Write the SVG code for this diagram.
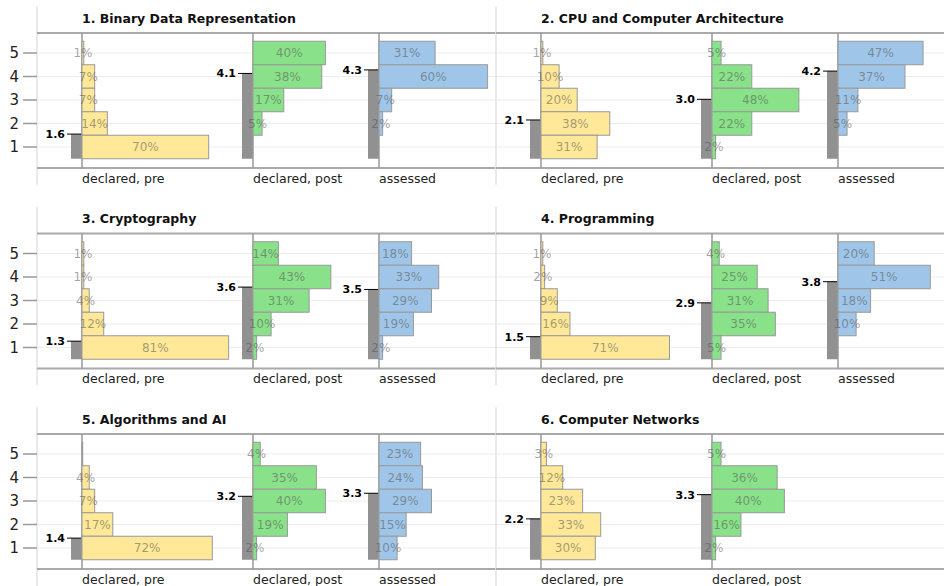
<svg xmlns="http://www.w3.org/2000/svg" xmlns:xlink="http://www.w3.org/1999/xlink" width="944" height="586" viewBox="0 0 944 586">
<style>
.pl{stroke:#e3e3e3;stroke-width:1.5}
.fr{stroke:#aaa;stroke-width:2}
.gr{stroke:#ececec;stroke-width:1}
.ax{stroke:#999;stroke-width:1.5}
.tk{stroke:#999;stroke-width:1.5}
.pre{fill:#ffe897;stroke:#999;stroke-width:1}
.post{fill:#89e189;stroke:#999;stroke-width:1}
.ass{fill:#9fc5e8;stroke:#999;stroke-width:1}
.mb{fill:#919191}
.mt{stroke:#000;stroke-width:1}
text{font-family:"DejaVu Sans","Noto Sans",sans-serif}
.pct{font-size:12px;fill:#555;fill-opacity:.55;text-anchor:middle}
.ml{font-size:11px;font-weight:bold;fill:#000;text-anchor:end}
.t{font-size:12.5px;font-weight:bold;fill:#111}
.al{font-size:12.5px;fill:#222}
.tl{font-size:15px;fill:#222;text-anchor:end}
</style>
<defs>
<g id="frame">
<line class="pl" x1="0" y1="6" x2="0" y2="185"/>
<line class="gr" x1="0" y1="53" x2="459" y2="53"/>
<line class="gr" x1="0" y1="76.5" x2="459" y2="76.5"/>
<line class="gr" x1="0" y1="100" x2="459" y2="100"/>
<line class="gr" x1="0" y1="123.5" x2="459" y2="123.5"/>
<line class="gr" x1="0" y1="147" x2="459" y2="147"/>
<line class="fr" x1="0" y1="33" x2="459" y2="33"/>
<line class="fr" x1="0" y1="168" x2="459" y2="168"/>
</g>
<g id="yticks">
<line class="tk" x1="-14" y1="53" x2="0" y2="53"/>
<line class="tk" x1="-14" y1="76.5" x2="0" y2="76.5"/>
<line class="tk" x1="-14" y1="100" x2="0" y2="100"/>
<line class="tk" x1="-14" y1="123.5" x2="0" y2="123.5"/>
<line class="tk" x1="-14" y1="147" x2="0" y2="147"/>
<text class="tl" x="-18" y="58.4">5</text>
<text class="tl" x="-18" y="81.9">4</text>
<text class="tl" x="-18" y="105.4">3</text>
<text class="tl" x="-18" y="128.9">2</text>
<text class="tl" x="-18" y="152.4">1</text>
</g>
<line id="axis" class="ax" x1="0" y1="33" x2="0" y2="168"/>
</defs>

<g id="panel1" transform="translate(37,0)">
<use xlink:href="#frame"/><use xlink:href="#yticks"/>
<text class="t" x="45" y="22.5">1. Binary Data Representation</text>
<g id="p1-pre" transform="translate(45,0)">
<rect class="mb" x="-11" y="134.08" width="11" height="24.67"/>
<line class="mt" x1="-15" y1="134.08" x2="0" y2="134.08"/>
<text class="ml" x="-17" y="138">1.6</text>
<use xlink:href="#axis"/>
<rect class="pre" x="0" y="41.25" width="1.81" height="23.5"/><text class="pct" x="0.9" y="57.3">1%</text>
<rect class="pre" x="0" y="64.75" width="12.67" height="23.5"/><text class="pct" x="6.34" y="80.8">7%</text>
<rect class="pre" x="0" y="88.25" width="12.67" height="23.5"/><text class="pct" x="6.34" y="104.3">7%</text>
<rect class="pre" x="0" y="111.75" width="25.34" height="23.5"/><text class="pct" x="12.67" y="127.8">14%</text>
<rect class="pre" x="0" y="135.25" width="126.7" height="23.5"/><text class="pct" x="63.35" y="151.3">70%</text>
<text class="al" x="0" y="182.5">declared, pre</text>
</g>
<g id="p1-post" transform="translate(216,0)">
<rect class="mb" x="-11" y="73.45" width="11" height="85.3"/>
<line class="mt" x1="-15" y1="73.45" x2="0" y2="73.45"/>
<text class="ml" x="-17" y="77.4">4.1</text>
<use xlink:href="#axis"/>
<rect class="post" x="0" y="41.25" width="72.4" height="23.5"/><text class="pct" x="36.2" y="57.3">40%</text>
<rect class="post" x="0" y="64.75" width="68.78" height="23.5"/><text class="pct" x="34.39" y="80.8">38%</text>
<rect class="post" x="0" y="88.25" width="30.77" height="23.5"/><text class="pct" x="15.39" y="104.3">17%</text>
<rect class="post" x="0" y="111.75" width="9.05" height="23.5"/><text class="pct" x="4.53" y="127.8">5%</text>
<text class="al" x="0" y="182.5">declared, post</text>
</g>
<g id="p1-ass" transform="translate(342,0)">
<rect class="mb" x="-11" y="69.92" width="11" height="88.83"/>
<line class="mt" x1="-15" y1="69.92" x2="0" y2="69.92"/>
<text class="ml" x="-17" y="73.9">4.3</text>
<use xlink:href="#axis"/>
<rect class="ass" x="0" y="41.25" width="56.11" height="23.5"/><text class="pct" x="28.06" y="57.3">31%</text>
<rect class="ass" x="0" y="64.75" width="108.6" height="23.5"/><text class="pct" x="54.3" y="80.8">60%</text>
<rect class="ass" x="0" y="88.25" width="12.67" height="23.5"/><text class="pct" x="6.34" y="104.3">7%</text>
<rect class="ass" x="0" y="111.75" width="3.62" height="23.5"/><text class="pct" x="1.81" y="127.8">2%</text>
<text class="al" x="0" y="182.5">assessed</text>
</g>
</g>

<g id="panel2" transform="translate(496,0)">
<use xlink:href="#frame"/>
<text class="t" x="45" y="22.5">2. CPU and Computer Architecture</text>
<g id="p2-pre" transform="translate(45,0)">
<rect class="mb" x="-11" y="119.98" width="11" height="38.77"/>
<line class="mt" x1="-15" y1="119.98" x2="0" y2="119.98"/>
<text class="ml" x="-17" y="123.9">2.1</text>
<use xlink:href="#axis"/>
<rect class="pre" x="0" y="41.25" width="1.81" height="23.5"/><text class="pct" x="0.9" y="57.3">1%</text>
<rect class="pre" x="0" y="64.75" width="18.1" height="23.5"/><text class="pct" x="9.05" y="80.8">10%</text>
<rect class="pre" x="0" y="88.25" width="36.2" height="23.5"/><text class="pct" x="18.1" y="104.3">20%</text>
<rect class="pre" x="0" y="111.75" width="68.78" height="23.5"/><text class="pct" x="34.39" y="127.8">38%</text>
<rect class="pre" x="0" y="135.25" width="56.11" height="23.5"/><text class="pct" x="28.06" y="151.3">31%</text>
<text class="al" x="0" y="182.5">declared, pre</text>
</g>
<g id="p2-post" transform="translate(216,0)">
<rect class="mb" x="-11" y="99.3" width="11" height="59.45"/>
<line class="mt" x1="-15" y1="99.3" x2="0" y2="99.3"/>
<text class="ml" x="-17" y="103.2">3.0</text>
<use xlink:href="#axis"/>
<rect class="post" x="0" y="41.25" width="9.05" height="23.5"/><text class="pct" x="4.53" y="57.3">5%</text>
<rect class="post" x="0" y="64.75" width="39.82" height="23.5"/><text class="pct" x="19.91" y="80.8">22%</text>
<rect class="post" x="0" y="88.25" width="86.88" height="23.5"/><text class="pct" x="43.44" y="104.3">48%</text>
<rect class="post" x="0" y="111.75" width="39.82" height="23.5"/><text class="pct" x="19.91" y="127.8">22%</text>
<rect class="post" x="0" y="135.25" width="3.62" height="23.5"/><text class="pct" x="1.81" y="151.3">2%</text>
<text class="al" x="0" y="182.5">declared, post</text>
</g>
<g id="p2-ass" transform="translate(342,0)">
<rect class="mb" x="-11" y="71.1" width="11" height="87.65"/>
<line class="mt" x1="-15" y1="71.1" x2="0" y2="71.1"/>
<text class="ml" x="-17" y="75">4.2</text>
<use xlink:href="#axis"/>
<rect class="ass" x="0" y="41.25" width="85.07" height="23.5"/><text class="pct" x="42.54" y="57.3">47%</text>
<rect class="ass" x="0" y="64.75" width="66.97" height="23.5"/><text class="pct" x="33.49" y="80.8">37%</text>
<rect class="ass" x="0" y="88.25" width="19.91" height="23.5"/><text class="pct" x="9.96" y="104.3">11%</text>
<rect class="ass" x="0" y="111.75" width="9.05" height="23.5"/><text class="pct" x="4.53" y="127.8">5%</text>
<text class="al" x="0" y="182.5">assessed</text>
</g>
</g>

<g id="panel3" transform="translate(37,200.5)">
<use xlink:href="#frame"/><use xlink:href="#yticks"/>
<text class="t" x="45" y="22.5">3. Cryptography</text>
<g id="p3-pre" transform="translate(45,0)">
<rect class="mb" x="-11" y="140.66" width="11" height="18.09"/>
<line class="mt" x1="-15" y1="140.66" x2="0" y2="140.66"/>
<text class="ml" x="-17" y="144.6">1.3</text>
<use xlink:href="#axis"/>
<rect class="pre" x="0" y="41.25" width="1.81" height="23.5"/><text class="pct" x="0.9" y="57.3">1%</text>
<rect class="pre" x="0" y="64.75" width="1.81" height="23.5"/><text class="pct" x="0.9" y="80.8">1%</text>
<rect class="pre" x="0" y="88.25" width="7.24" height="23.5"/><text class="pct" x="3.62" y="104.3">4%</text>
<rect class="pre" x="0" y="111.75" width="21.72" height="23.5"/><text class="pct" x="10.86" y="127.8">12%</text>
<rect class="pre" x="0" y="135.25" width="146.61" height="23.5"/><text class="pct" x="73.31" y="151.3">81%</text>
<text class="al" x="0" y="182.5">declared, pre</text>
</g>
<g id="p3-post" transform="translate(216,0)">
<rect class="mb" x="-11" y="86.6" width="11" height="72.15"/>
<line class="mt" x1="-15" y1="86.6" x2="0" y2="86.6"/>
<text class="ml" x="-17" y="90.5">3.6</text>
<use xlink:href="#axis"/>
<rect class="post" x="0" y="41.25" width="25.34" height="23.5"/><text class="pct" x="12.67" y="57.3">14%</text>
<rect class="post" x="0" y="64.75" width="77.83" height="23.5"/><text class="pct" x="38.92" y="80.8">43%</text>
<rect class="post" x="0" y="88.25" width="56.11" height="23.5"/><text class="pct" x="28.06" y="104.3">31%</text>
<rect class="post" x="0" y="111.75" width="18.1" height="23.5"/><text class="pct" x="9.05" y="127.8">10%</text>
<rect class="post" x="0" y="135.25" width="3.62" height="23.5"/><text class="pct" x="1.81" y="151.3">2%</text>
<text class="al" x="0" y="182.5">declared, post</text>
</g>
<g id="p3-ass" transform="translate(342,0)">
<rect class="mb" x="-11" y="88.96" width="11" height="69.79"/>
<line class="mt" x1="-15" y1="88.96" x2="0" y2="88.96"/>
<text class="ml" x="-17" y="92.9">3.5</text>
<use xlink:href="#axis"/>
<rect class="ass" x="0" y="41.25" width="32.58" height="23.5"/><text class="pct" x="16.29" y="57.3">18%</text>
<rect class="ass" x="0" y="64.75" width="59.73" height="23.5"/><text class="pct" x="29.87" y="80.8">33%</text>
<rect class="ass" x="0" y="88.25" width="52.49" height="23.5"/><text class="pct" x="26.25" y="104.3">29%</text>
<rect class="ass" x="0" y="111.75" width="34.39" height="23.5"/><text class="pct" x="17.2" y="127.8">19%</text>
<rect class="ass" x="0" y="135.25" width="3.62" height="23.5"/><text class="pct" x="1.81" y="151.3">2%</text>
<text class="al" x="0" y="182.5">assessed</text>
</g>
</g>

<g id="panel4" transform="translate(496,200.5)">
<use xlink:href="#frame"/>
<text class="t" x="45" y="22.5">4. Programming</text>
<g id="p4-pre" transform="translate(45,0)">
<rect class="mb" x="-11" y="136.19" width="11" height="22.56"/>
<line class="mt" x1="-15" y1="136.19" x2="0" y2="136.19"/>
<text class="ml" x="-17" y="140.1">1.5</text>
<use xlink:href="#axis"/>
<rect class="pre" x="0" y="41.25" width="1.81" height="23.5"/><text class="pct" x="0.9" y="57.3">1%</text>
<rect class="pre" x="0" y="64.75" width="3.62" height="23.5"/><text class="pct" x="1.81" y="80.8">2%</text>
<rect class="pre" x="0" y="88.25" width="16.29" height="23.5"/><text class="pct" x="8.15" y="104.3">9%</text>
<rect class="pre" x="0" y="111.75" width="28.96" height="23.5"/><text class="pct" x="14.48" y="127.8">16%</text>
<rect class="pre" x="0" y="135.25" width="128.51" height="23.5"/><text class="pct" x="64.26" y="151.3">71%</text>
<text class="al" x="0" y="182.5">declared, pre</text>
</g>
<g id="p4-post" transform="translate(216,0)">
<rect class="mb" x="-11" y="102.35" width="11" height="56.4"/>
<line class="mt" x1="-15" y1="102.35" x2="0" y2="102.35"/>
<text class="ml" x="-17" y="106.3">2.9</text>
<use xlink:href="#axis"/>
<rect class="post" x="0" y="41.25" width="7.24" height="23.5"/><text class="pct" x="3.62" y="57.3">4%</text>
<rect class="post" x="0" y="64.75" width="45.25" height="23.5"/><text class="pct" x="22.63" y="80.8">25%</text>
<rect class="post" x="0" y="88.25" width="56.11" height="23.5"/><text class="pct" x="28.06" y="104.3">31%</text>
<rect class="post" x="0" y="111.75" width="63.35" height="23.5"/><text class="pct" x="31.68" y="127.8">35%</text>
<rect class="post" x="0" y="135.25" width="9.05" height="23.5"/><text class="pct" x="4.53" y="151.3">5%</text>
<text class="al" x="0" y="182.5">declared, post</text>
</g>
<g id="p4-ass" transform="translate(342,0)">
<rect class="mb" x="-11" y="81.2" width="11" height="77.55"/>
<line class="mt" x1="-15" y1="81.2" x2="0" y2="81.2"/>
<text class="ml" x="-17" y="85.1">3.8</text>
<use xlink:href="#axis"/>
<rect class="ass" x="0" y="41.25" width="36.2" height="23.5"/><text class="pct" x="18.1" y="57.3">20%</text>
<rect class="ass" x="0" y="64.75" width="92.31" height="23.5"/><text class="pct" x="46.16" y="80.8">51%</text>
<rect class="ass" x="0" y="88.25" width="32.58" height="23.5"/><text class="pct" x="16.29" y="104.3">18%</text>
<rect class="ass" x="0" y="111.75" width="18.1" height="23.5"/><text class="pct" x="9.05" y="127.8">10%</text>
<text class="al" x="0" y="182.5">assessed</text>
</g>
</g>

<g id="panel5" transform="translate(37,401)">
<use xlink:href="#frame"/><use xlink:href="#yticks"/>
<text class="t" x="45" y="22.5">5. Algorithms and AI</text>
<g id="p5-pre" transform="translate(45,0)">
<rect class="mb" x="-11" y="137.13" width="11" height="21.62"/>
<line class="mt" x1="-15" y1="137.13" x2="0" y2="137.13"/>
<text class="ml" x="-17" y="141.1">1.4</text>
<use xlink:href="#axis"/>
<rect class="pre" x="0" y="41.25" width="0.7" height="23.5"/>
<rect class="pre" x="0" y="64.75" width="7.24" height="23.5"/><text class="pct" x="3.62" y="80.8">4%</text>
<rect class="pre" x="0" y="88.25" width="12.67" height="23.5"/><text class="pct" x="6.34" y="104.3">7%</text>
<rect class="pre" x="0" y="111.75" width="30.77" height="23.5"/><text class="pct" x="15.39" y="127.8">17%</text>
<rect class="pre" x="0" y="135.25" width="130.32" height="23.5"/><text class="pct" x="65.16" y="151.3">72%</text>
<text class="al" x="0" y="182.5">declared, pre</text>
</g>
<g id="p5-post" transform="translate(216,0)">
<rect class="mb" x="-11" y="95.3" width="11" height="63.45"/>
<line class="mt" x1="-15" y1="95.3" x2="0" y2="95.3"/>
<text class="ml" x="-17" y="99.2">3.2</text>
<use xlink:href="#axis"/>
<rect class="post" x="0" y="41.25" width="7.24" height="23.5"/><text class="pct" x="3.62" y="57.3">4%</text>
<rect class="post" x="0" y="64.75" width="63.35" height="23.5"/><text class="pct" x="31.68" y="80.8">35%</text>
<rect class="post" x="0" y="88.25" width="72.4" height="23.5"/><text class="pct" x="36.2" y="104.3">40%</text>
<rect class="post" x="0" y="111.75" width="34.39" height="23.5"/><text class="pct" x="17.2" y="127.8">19%</text>
<rect class="post" x="0" y="135.25" width="3.62" height="23.5"/><text class="pct" x="1.81" y="151.3">2%</text>
<text class="al" x="0" y="182.5">declared, post</text>
</g>
<g id="p5-ass" transform="translate(342,0)">
<rect class="mb" x="-11" y="92.25" width="11" height="66.5"/>
<line class="mt" x1="-15" y1="92.25" x2="0" y2="92.25"/>
<text class="ml" x="-17" y="96.2">3.3</text>
<use xlink:href="#axis"/>
<rect class="ass" x="0" y="41.25" width="41.63" height="23.5"/><text class="pct" x="20.82" y="57.3">23%</text>
<rect class="ass" x="0" y="64.75" width="43.44" height="23.5"/><text class="pct" x="21.72" y="80.8">24%</text>
<rect class="ass" x="0" y="88.25" width="52.49" height="23.5"/><text class="pct" x="26.25" y="104.3">29%</text>
<rect class="ass" x="0" y="111.75" width="27.15" height="23.5"/><text class="pct" x="13.58" y="127.8">15%</text>
<rect class="ass" x="0" y="135.25" width="18.1" height="23.5"/><text class="pct" x="9.05" y="151.3">10%</text>
<text class="al" x="0" y="182.5">assessed</text>
</g>
</g>

<g id="panel6" transform="translate(496,401)">
<use xlink:href="#frame"/>
<text class="t" x="45" y="22.5">6. Computer Networks</text>
<g id="p6-pre" transform="translate(45,0)">
<rect class="mb" x="-11" y="117.86" width="11" height="40.89"/>
<line class="mt" x1="-15" y1="117.86" x2="0" y2="117.86"/>
<text class="ml" x="-17" y="121.8">2.2</text>
<use xlink:href="#axis"/>
<rect class="pre" x="0" y="41.25" width="5.43" height="23.5"/><text class="pct" x="2.72" y="57.3">3%</text>
<rect class="pre" x="0" y="64.75" width="21.72" height="23.5"/><text class="pct" x="10.86" y="80.8">12%</text>
<rect class="pre" x="0" y="88.25" width="41.63" height="23.5"/><text class="pct" x="20.82" y="104.3">23%</text>
<rect class="pre" x="0" y="111.75" width="59.73" height="23.5"/><text class="pct" x="29.87" y="127.8">33%</text>
<rect class="pre" x="0" y="135.25" width="54.3" height="23.5"/><text class="pct" x="27.15" y="151.3">30%</text>
<text class="al" x="0" y="182.5">declared, pre</text>
</g>
<g id="p6-post" transform="translate(216,0)">
<rect class="mb" x="-11" y="93.66" width="11" height="65.09"/>
<line class="mt" x1="-15" y1="93.66" x2="0" y2="93.66"/>
<text class="ml" x="-17" y="97.6">3.3</text>
<use xlink:href="#axis"/>
<rect class="post" x="0" y="41.25" width="9.05" height="23.5"/><text class="pct" x="4.53" y="57.3">5%</text>
<rect class="post" x="0" y="64.75" width="65.16" height="23.5"/><text class="pct" x="32.58" y="80.8">36%</text>
<rect class="post" x="0" y="88.25" width="72.4" height="23.5"/><text class="pct" x="36.2" y="104.3">40%</text>
<rect class="post" x="0" y="111.75" width="28.96" height="23.5"/><text class="pct" x="14.48" y="127.8">16%</text>
<rect class="post" x="0" y="135.25" width="3.62" height="23.5"/><text class="pct" x="1.81" y="151.3">2%</text>
<text class="al" x="0" y="182.5">declared, post</text>
</g>
</g>
<g id="connectors"/>
</svg>
